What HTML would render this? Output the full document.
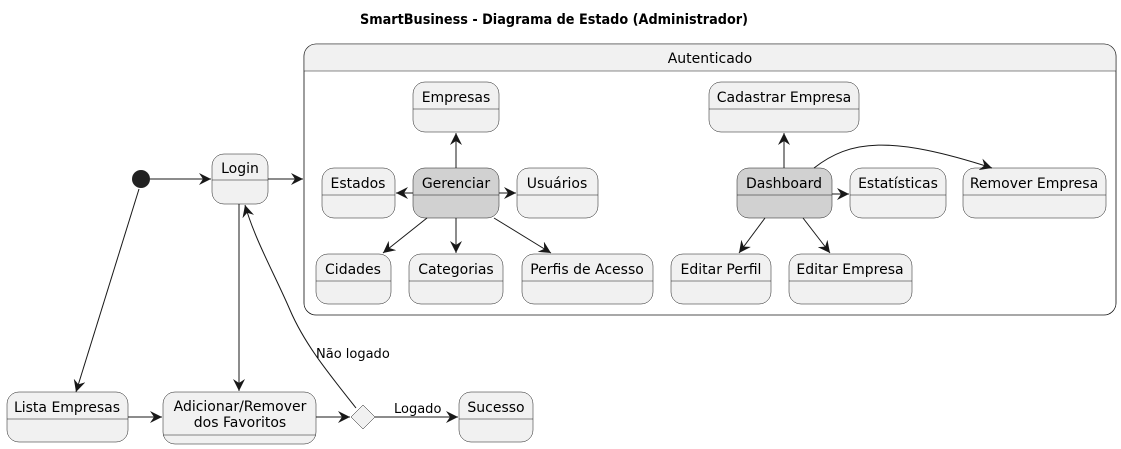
<!DOCTYPE html>
<html><head><meta charset="utf-8"><style>
html,body{margin:0;padding:0;background:#fff;}
svg{display:block;}
text{font-family:"DejaVu Sans","Liberation Sans",sans-serif;font-size:14px;fill:#000;}
.b{fill:#f1f1f1;stroke:#181818;stroke-width:0.5;}
.g{fill:#d1d1d1;stroke:#181818;stroke-width:0.5;}
.s{stroke:#181818;stroke-width:0.5;}
.l{stroke:#181818;stroke-width:1;fill:none;marker-end:url(#a);}
</style></head><body>
<svg width="1121" height="449" viewBox="0 0 1121 449" xmlns="http://www.w3.org/2000/svg">
<defs>
<marker id="a" markerWidth="14" markerHeight="12" refX="12" refY="6" orient="auto" markerUnits="userSpaceOnUse">
<path d="M0,0 L12,6 L0,12 L4,6 Z" fill="#181818"/>
</marker>
</defs>
<text x="554" y="24" text-anchor="middle" style="font-weight:bold" textLength="388" lengthAdjust="spacingAndGlyphs">SmartBusiness - Diagrama de Estado (Administrador)</text>

<rect x="304" y="44" width="812" height="271" rx="12" fill="#fff" stroke="#181818" stroke-width="0.6"/>
<path d="M304,56 Q304,44 316,44 L1104,44 Q1116,44 1116,56 L1116,71 L304,71 Z" fill="#f1f1f1"/>
<rect x="304" y="44" width="812" height="271" rx="12" fill="none" stroke="#181818" stroke-width="0.6"/>
<line x1="304" y1="71" x2="1116" y2="71" class="s"/>
<text x="710" y="63" text-anchor="middle">Autenticado</text>

<g>
<rect class="b" x="212" y="154" width="56" height="50" rx="12"/><line class="s" x1="212" y1="180" x2="268" y2="180"/><text x="240" y="173" text-anchor="middle">Login</text>
<rect class="b" x="413" y="82" width="86" height="50" rx="12"/><line class="s" x1="413" y1="109" x2="499" y2="109"/><text x="456" y="102" text-anchor="middle">Empresas</text>
<rect class="b" x="322" y="168" width="73" height="50" rx="12"/><line class="s" x1="322" y1="195" x2="395" y2="195"/><text x="358" y="188" text-anchor="middle">Estados</text>
<rect class="g" x="413" y="168" width="86" height="50" rx="12"/><line class="s" x1="413" y1="195" x2="499" y2="195"/><text x="456" y="188" text-anchor="middle">Gerenciar</text>
<rect class="b" x="517" y="168" width="81" height="50" rx="12"/><line class="s" x1="517" y1="195" x2="598" y2="195"/><text x="557" y="188" text-anchor="middle">Usuários</text>
<rect class="b" x="316" y="254" width="75" height="50" rx="12"/><line class="s" x1="316" y1="281" x2="391" y2="281"/><text x="353" y="274" text-anchor="middle">Cidades</text>
<rect class="b" x="409" y="254" width="94" height="50" rx="12"/><line class="s" x1="409" y1="281" x2="503" y2="281"/><text x="456" y="274" text-anchor="middle">Categorias</text>
<rect class="b" x="522" y="254" width="131" height="50" rx="12"/><line class="s" x1="522" y1="281" x2="653" y2="281"/><text x="587" y="274" text-anchor="middle">Perfis de Acesso</text>
<rect class="b" x="709" y="82" width="150" height="50" rx="12"/><line class="s" x1="709" y1="109" x2="859" y2="109"/><text x="784" y="102" text-anchor="middle">Cadastrar Empresa</text>
<rect class="g" x="737" y="168" width="95" height="50" rx="12"/><line class="s" x1="737" y1="195" x2="832" y2="195"/><text x="784" y="188" text-anchor="middle">Dashboard</text>
<rect class="b" x="850" y="168" width="96" height="50" rx="12"/><line class="s" x1="850" y1="195" x2="946" y2="195"/><text x="898" y="188" text-anchor="middle">Estatísticas</text>
<rect class="b" x="963" y="168" width="143" height="50" rx="12"/><line class="s" x1="963" y1="195" x2="1106" y2="195"/><text x="1034" y="188" text-anchor="middle">Remover Empresa</text>
<rect class="b" x="671" y="254" width="100" height="50" rx="12"/><line class="s" x1="671" y1="281" x2="771" y2="281"/><text x="721" y="274" text-anchor="middle">Editar Perfil</text>
<rect class="b" x="789" y="254" width="123" height="50" rx="12"/><line class="s" x1="789" y1="281" x2="912" y2="281"/><text x="850" y="274" text-anchor="middle">Editar Empresa</text>
<rect class="b" x="7" y="392" width="121" height="50" rx="12"/><line class="s" x1="7" y1="419" x2="128" y2="419"/><text x="67" y="412" text-anchor="middle">Lista Empresas</text>
<rect class="b" x="163" y="392" width="153" height="52" rx="12"/><line class="s" x1="163" y1="435" x2="316" y2="435"/><text x="240" y="411" text-anchor="middle">Adicionar/Remover</text><text x="240" y="427" text-anchor="middle">dos Favoritos</text>
<rect class="b" x="459" y="392" width="74" height="50" rx="12"/><line class="s" x1="459" y1="419" x2="533" y2="419"/><text x="496" y="412" text-anchor="middle">Sucesso</text>
</g>

<circle cx="141" cy="179" r="9" fill="#222"/>
<path d="M363,405 L375,417 L363,429 L351,417 Z" class="b"/>

<path class="l" d="M150,179 L211,179"/>
<path class="l" d="M268,179 L303,179"/>
<path class="l" d="M139,189 L76,392"/>
<path class="l" d="M239,204 L239,391"/>
<path class="l" d="M128,417 L162,417"/>
<path class="l" d="M316,417 L350,417"/>
<path class="l" d="M375,417 L458,417"/>
<text x="394" y="413" style="font-size:13px">Logado</text>
<path class="l" d="M356,408 C330,375 305,345 290,310 C275,275 255,240 245,205"/>
<text x="316" y="358" style="font-size:13px">Não logado</text>

<path class="l" d="M456,168 L456,133"/>
<path class="l" d="M413,193 L396,193"/>
<path class="l" d="M499,193 L516,193"/>
<path class="l" d="M427,218 L383,253"/>
<path class="l" d="M456,218 L456,253"/>
<path class="l" d="M494,218 L551,253"/>

<path class="l" d="M784,168 L784,133"/>
<path class="l" d="M832,194 L849,194"/>
<path class="l" d="M814,168 C850,140 890,135 992,168"/>
<path class="l" d="M765,218 L739,253"/>
<path class="l" d="M803,218 L830,253"/>
</svg>
</body></html>
